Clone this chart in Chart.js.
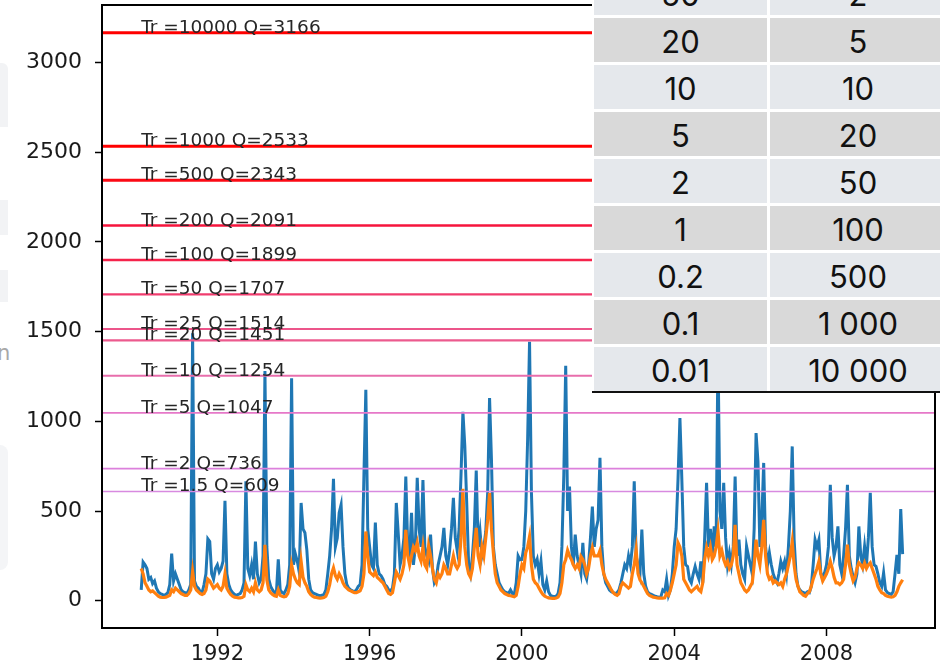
<!DOCTYPE html>
<html>
<head>
<meta charset="utf-8">
<script src="https://cdn.jsdelivr.net/npm/chart.js@4.4.1/dist/chart.umd.min.js"></script>
<style>
  html, body { margin: 0; padding: 0; background: #fff; }
  #wrap { position: relative; width: 940px; height: 665px; overflow: hidden; background: #fff; }
  #chart { position: absolute; left: 0; top: 0; }
  .ghost { position: absolute; background: #f2f3f5; }
  #ghostLetter { position: absolute; left: -3px; top: 341px; font: 21px "DejaVu Sans", sans-serif; color: #a8a8a8; }
  #tableBox { position: absolute; left: 592px; top: 0; width: 348px; height: 391px; background: #fff; overflow: hidden; }
  #tableGrid { position: absolute; left: 2px; top: -29px; display: grid;
    grid-template-columns: 173px 176px; grid-auto-rows: 44px; column-gap: 3px; row-gap: 3px; }
  #tableGrid div { display: flex; align-items: center; justify-content: center;
    font: 31px Inter, Roboto, sans-serif; color: #111; padding-top: 3px; box-sizing: border-box; }
  .light { background: #e5e8ec; }
  .dark { background: #d9d9d9; }
  #tableRule { position: absolute; left: 592px; top: 391px; width: 348px; height: 2px; background: #111; }
</style>
</head>
<body>
<div id="wrap">
  <div class="ghost" style="left:0;top:63px;width:8px;height:64px;border-top-right-radius:6px;"></div>
  <div class="ghost" style="left:0;top:200px;width:8px;height:35px;"></div>
  <div class="ghost" style="left:0;top:270px;width:8px;height:32px;"></div>
  <div class="ghost" style="left:0;top:445px;width:8px;height:125px;border-top-right-radius:8px;border-bottom-right-radius:8px;background:#f4f5f7;"></div>
  <div id="ghostLetter">n</div>
  <canvas id="chart" width="940" height="665"></canvas>
  <div id="tableBox"><div id="tableGrid"></div></div>
  <div id="tableRule"></div>
</div>
<script>
// ── Data ──
// daily-ish flow record, one value every 0.05 year from 1990.0
const startYear = 1990;
const stepYears = 0.05;

const observedFlow = [
  60, 215, 200, 180, 120, 130, 95, 110, 70, 50, 40, 35, 30, 35, 45, 90, 262, 110, 150, 120,
  90, 60, 50, 45, 40, 60, 90, 1490, 110, 80, 70, 50, 45, 90, 150, 345, 330, 150, 120, 180,
  200, 160, 180, 220, 557, 150, 90, 60, 45, 35, 30, 35, 40, 60, 100, 665, 180, 140, 200, 120,
  330, 150, 100, 120, 250, 1280, 300, 120, 80, 60, 45, 40, 230, 60, 45, 40, 60, 90, 200, 1240,
  200, 260, 220, 160, 545, 400, 379, 284, 120, 60, 45, 40, 35, 30, 28, 30, 35, 60, 150, 250,
  400, 679, 300, 350, 490, 535, 300, 150, 90, 70, 60, 55, 50, 60, 80, 90, 200, 700, 1175, 400,
  300, 200, 180, 436, 200, 150, 140, 120, 90, 80, 60, 55, 70, 150, 545, 380, 200, 250, 350, 692,
  300, 250, 490, 200, 300, 685, 400, 300, 672, 300, 250, 220, 368, 180, 100, 120, 200, 250, 300, 406,
  250, 200, 280, 400, 573, 350, 280, 400, 700, 1053, 860, 546, 200, 150, 250, 400, 726, 300, 386, 250,
  300, 386, 600, 1129, 785, 300, 200, 150, 100, 80, 60, 50, 45, 40, 60, 40, 35, 100, 250, 228,
  230, 300, 500, 900, 1443, 600, 247, 200, 230, 150, 220, 90, 60, 110, 50, 30, 25, 22, 25, 40,
  100, 300, 700, 1310, 500, 637, 300, 200, 368, 250, 200, 150, 323, 150, 120, 200, 350, 525, 300, 400,
  450, 797, 300, 150, 100, 80, 60, 50, 45, 40, 45, 60, 100, 150, 200, 180, 250, 200, 300, 665,
  250, 200, 150, 396, 150, 80, 50, 40, 35, 30, 25, 22, 20, 22, 60, 50, 120, 30, 60, 150,
  300, 400, 678, 1018, 678, 300, 200, 191, 120, 100, 150, 191, 150, 120, 219, 100, 350, 657, 300, 400,
  250, 414, 300, 1400, 500, 400, 657, 350, 200, 267, 200, 300, 692, 250, 340, 200, 150, 120, 303, 250,
  200, 150, 400, 934, 775, 300, 450, 768, 300, 200, 267, 200, 150, 120, 100, 150, 219, 180, 219, 150,
  300, 500, 860, 340, 150, 80, 60, 50, 45, 40, 50, 45, 80, 200, 340, 300, 340, 156, 120, 156,
  200, 300, 646, 350, 250, 300, 414, 200, 150, 250, 400, 646, 250, 180, 135, 100, 150, 414, 250, 200,
  303, 200, 350, 601, 300, 200, 191, 150, 100, 80, 156, 60, 45, 40, 35, 50, 150, 256, 150, 511, 260
];

const simulatedFlow = [
  180, 150, 100, 80, 60, 50, 55, 45, 35, 25, 20, 18, 18, 20, 25, 30, 60, 50, 70, 60,
  50, 40, 35, 30, 30, 40, 60, 163, 80, 60, 50, 40, 35, 40, 60, 120, 110, 90, 70, 80,
  90, 70, 60, 80, 150, 70, 50, 35, 25, 20, 18, 16, 16, 18, 25, 89, 60, 50, 70, 50,
  100, 60, 50, 60, 100, 312, 117, 60, 45, 35, 28, 25, 60, 30, 25, 22, 25, 40, 80, 200,
  150, 120, 100, 90, 219, 130, 100, 80, 50, 35, 25, 20, 18, 16, 15, 16, 18, 25, 50, 90,
  150, 183, 140, 120, 150, 130, 100, 80, 70, 60, 55, 50, 45, 45, 50, 55, 80, 150, 386, 250,
  160, 150, 140, 160, 130, 120, 110, 100, 80, 60, 40, 35, 45, 100, 160, 140, 120, 150, 200, 395,
  250, 200, 250, 300, 280, 323, 250, 220, 300, 200, 180, 305, 250, 180, 120, 100, 150, 130, 150, 200,
  180, 150, 150, 200, 250, 200, 180, 200, 350, 624, 300, 200, 150, 130, 180, 300, 406, 250, 200, 300,
  250, 350, 450, 601, 400, 267, 150, 100, 80, 60, 50, 40, 35, 30, 28, 25, 22, 30, 80, 150,
  200, 180, 267, 300, 357, 200, 120, 100, 90, 70, 50, 35, 25, 20, 16, 14, 13, 13, 15, 20,
  40, 100, 200, 230, 280, 250, 230, 200, 180, 200, 180, 247, 230, 200, 150, 180, 250, 295, 250, 250,
  250, 280, 200, 150, 120, 100, 80, 60, 45, 35, 30, 40, 80, 100, 90, 80, 70, 80, 150, 200,
  284, 150, 117, 100, 80, 60, 40, 30, 25, 20, 18, 16, 15, 14, 14, 16, 40, 30, 60, 100,
  150, 200, 323, 300, 250, 120, 100, 80, 60, 50, 60, 70, 80, 60, 50, 100, 230, 295, 250, 300,
  230, 250, 300, 386, 250, 280, 230, 200, 220, 180, 200, 250, 423, 200, 150, 100, 80, 60, 50, 60,
  80, 100, 200, 340, 250, 200, 300, 451, 250, 150, 120, 130, 100, 110, 100, 90, 100, 80, 120, 150,
  200, 250, 330, 200, 120, 80, 50, 40, 30, 25, 40, 50, 80, 120, 150, 180, 219, 150, 110, 130,
  150, 180, 219, 180, 130, 100, 100, 90, 100, 120, 200, 312, 200, 150, 110, 130, 180, 211, 200, 180,
  211, 180, 200, 211, 180, 150, 120, 80, 60, 45, 40, 30, 25, 22, 20, 22, 30, 50, 80, 100, 117
];

// return period (years) and the matching design flow
const returnPeriods = [10000, 1000, 500, 200, 100, 50, 25, 20, 10, 5, 2, 1.5];
const designFlows   = [3166, 2533, 2343, 2091, 1899, 1707, 1514, 1451, 1254, 1047, 736, 609];

// table overlay: exceedance probability (%) vs return period
const tableProb   = ['50', '20', '10', '5', '2', '1', '0.2', '0.1', '0.01'];
const tablePeriod = ['2', '5', '10', '20', '50', '100', '500', '1 000', '10 000'];

const xTicks = [1992, 1996, 2000, 2004, 2008];
const yTicks = [0, 500, 1000, 1500, 2000, 2500, 3000];

// ── Styles for the threshold lines, red at the top fading to violet ──
const lineColors = ['#ff0000', '#ff0000', '#fb0a14', '#f6143c', '#f5234b', '#f03c6e',
                    '#ec558a', '#ec5a8e', '#e86eac', '#e678c8', '#dc80dc', '#d88ae0'];
const lineWidths = [3, 3, 3, 2.6, 2.6, 2.3, 2.1, 2.1, 2, 1.8, 1.6, 1.5];

const xMin = 1988.97, xMax = 2010.85;

const toPoints = arr => arr.map((v, i) => ({ x: startYear + i * stepYears, y: v }));

const thresholdSets = designFlows.map((q, k) => ({
  data: [{ x: xMin, y: q }, { x: xMax, y: q }],
  borderColor: lineColors[k],
  borderWidth: lineWidths[k],
  order: 0
}));

// ── Plugins ──
// text labels "Tr =.. Q=.." sitting on each threshold line
const thresholdLabels = {
  id: 'thresholdLabels',
  afterDatasetsDraw(chart) {
    const { ctx, scales: { x, y } } = chart;
    ctx.save();
    ctx.font = '18.5px "DejaVu Sans"';
    ctx.fillStyle = '#262626';
    ctx.textBaseline = 'alphabetic';
    ctx.textAlign = 'left';
    returnPeriods.forEach((tr, k) => {
      ctx.fillText(`Tr =${tr} Q=${designFlows[k]}`, x.getPixelForValue(startYear), y.getPixelForValue(designFlows[k]));
    });
    ctx.restore();
  }
};

// full box round the plot area, like matplotlib spines
const frame = {
  id: 'frame',
  afterDraw(chart) {
    const { ctx, chartArea: a } = chart;
    ctx.save();
    ctx.strokeStyle = '#000';
    ctx.lineWidth = 2;
    ctx.strokeRect(a.left, a.top, a.right - a.left, a.bottom - a.top);
    ctx.restore();
  }
};

new Chart(document.getElementById('chart'), {
  type: 'line',
  data: {
    datasets: [
      ...thresholdSets,
      { data: toPoints(simulatedFlow), borderColor: '#ff7f0e', borderWidth: 3.2, order: 1 },
      { data: toPoints(observedFlow), borderColor: '#1f77b4', borderWidth: 3, order: 2 }
    ]
  },
  options: {
    responsive: false,
    animation: false,
    layout: { padding: { left: 0, right: 5, top: 5, bottom: 0 } },
    elements: { point: { radius: 0 }, line: { tension: 0 } },
    plugins: { legend: { display: false }, tooltip: { enabled: false } },
    scales: {
      x: {
        type: 'linear', min: xMin, max: xMax,
        afterBuildTicks: s => { s.ticks = xTicks.map(v => ({ value: v })); },
        afterFit: s => { s.height = 37; s.paddingLeft = 0; s.paddingRight = 0; },
        grid: { drawOnChartArea: false, tickLength: 8, tickWidth: 1.5, tickColor: '#000' },
        border: { display: false },
        ticks: { font: { family: 'DejaVu Sans', size: 21 }, color: '#1a1a1a', padding: 6,
                 maxRotation: 0, callback: v => String(v) }
      },
      y: {
        min: -152, max: 3320,
        afterBuildTicks: s => { s.ticks = yTicks.map(v => ({ value: v })); },
        afterFit: s => { s.width = 102; s.paddingTop = 0; s.paddingBottom = 0; },
        grid: { drawOnChartArea: false, tickLength: 7, tickWidth: 1.5, tickColor: '#000' },
        border: { display: false },
        ticks: { font: { family: 'DejaVu Sans', size: 22 }, color: '#1a1a1a', padding: 13,
                 callback: v => String(v) }
      }
    }
  },
  plugins: [thresholdLabels, frame]
});

// ── Table overlay ──
const grid = document.getElementById('tableGrid');
tableProb.forEach((p, r) => {
  [p, tablePeriod[r]].forEach(txt => {
    const cell = document.createElement('div');
    cell.className = r % 2 ? 'dark' : 'light';
    cell.textContent = txt;
    grid.appendChild(cell);
  });
});
</script>
</body>
</html>
